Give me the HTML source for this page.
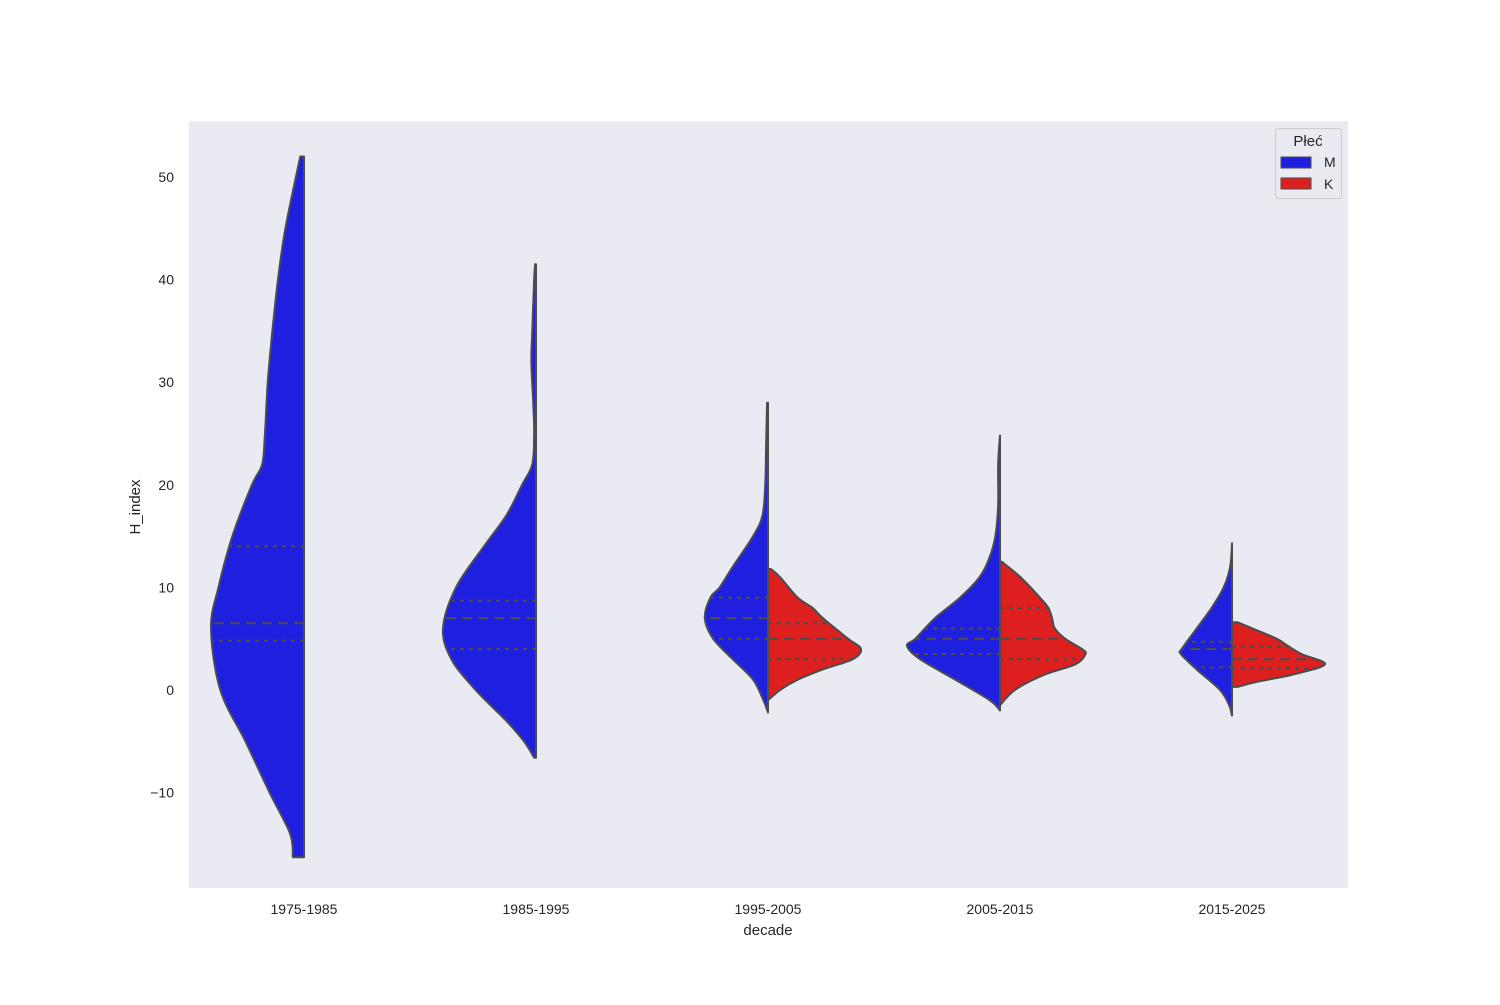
<!DOCTYPE html>
<html><head><meta charset="utf-8">
<style>
html,body{margin:0;padding:0;background:#fff;}
svg text{font-family:"Liberation Sans",Arial,sans-serif;fill:#262626;}
</style></head>
<body>
<svg id="chart" width="1500" height="1000" viewBox="0 0 1500 1000" xmlns="http://www.w3.org/2000/svg">
<rect x="0" y="0" width="1500" height="1000" fill="#fff"/>
<rect x="189" y="121" width="1159" height="767" fill="#eaeaf2"/>
<g id="yticks"></g>
<g id="xticks"></g>
<g id="violins"></g>
<text x="768" y="935" font-size="15" text-anchor="middle">decade</text>
<text x="140" y="507" font-size="15" text-anchor="middle" transform="rotate(-90 140 507)">H_index</text>
<g>
<rect x="1275.5" y="128.5" width="66" height="70" rx="3" fill="#eaeaf2" stroke="#cccccc"/>
<text x="1308" y="146" font-size="15" text-anchor="middle">Płeć</text>
<g><rect x="1281" y="157" width="30" height="11" fill="#1f1fe0" stroke="#4c4c4c" stroke-width="1"/><text x="1324" y="167" font-size="14">M</text></g>
<g><rect x="1281" y="178" width="30" height="11" fill="#de1f1f" stroke="#4c4c4c" stroke-width="1"/><text x="1324" y="189" font-size="14">K</text></g>
</g>
</svg>
<script>
const categories = ["1975-1985","1985-1995","1995-2005","2005-2015","2015-2025"];
const yTicks = [-10,0,10,20,30,40,50];
// M (left halves): value grid and density per category
const mValues = [
 [52,45,40,35,30,25,22,20,15,10,6,0,-5,-10,-14,-16.3],
 [41.5,40,35,32,28,25,22,20,17,14,10,6,3,0,-3,-5,-6.6],
 [28,24,20,17,15,12,10,9,7,5,3,1,-1,-2.2],
 [24.8,22,18,15,13,11,9,7,5,4.3,3,1,-1,-2],
 [14.3,12,10,8,6,4,3.5,2,0,-1.5,-2.5]
];
const mDensity = [
 [0.04,0.2,0.28,0.34,0.39,0.42,0.45,0.56,0.77,0.92,1.0,0.9,0.63,0.37,0.15,0.12],
 [0.01,0.02,0.04,0.05,0.03,0.02,0.04,0.15,0.32,0.56,0.86,1.0,0.91,0.65,0.32,0.13,0.02],
 [0.01,0.02,0.03,0.06,0.16,0.38,0.52,0.62,0.68,0.59,0.38,0.16,0.05,0.0],
 [0.0,0.02,0.02,0.05,0.11,0.22,0.43,0.7,0.91,1.0,0.86,0.48,0.11,0.0],
 [0.0,0.02,0.09,0.22,0.38,0.54,0.55,0.38,0.13,0.03,0.0]
];
const mQuartiles = [[14,6.5,4.8],[8.7,7,4],[9,7,5],[6,5,3.5],[4.7,4,2.2]];
// K (right halves)
const kValues = [null,null,
 [11.8,11,9,8,7,5,4,3,2,1,0,-1],
 [12.5,11,9,8,7,6,5,4,3.5,2.5,1.5,0,-1.5],
 [6.6,6,5,4.3,3.5,2.5,1.5,0.8,0.3]
];
const kDensity = [null,null,
 [0.03,0.13,0.32,0.48,0.59,0.86,1.0,0.91,0.59,0.32,0.13,0.0],
 [0.02,0.22,0.43,0.52,0.56,0.59,0.7,0.88,0.92,0.81,0.48,0.16,0.0],
 [0.06,0.22,0.48,0.6,0.75,1.0,0.65,0.27,0.06]
];
const kQuartiles = [null,null,[6.5,5,3],[8,5,3],[4.2,3,2.1]];

const NS="http://www.w3.org/2000/svg";
const yScale = v => 690 - v*10.26;
const xCenter = i => 304 + i*232;
const maxW = 93;
function el(tag, attrs, parent){const e=document.createElementNS(NS,tag);for(const k in attrs)e.setAttribute(k,attrs[k]);parent.appendChild(e);return e;}

const yg=document.getElementById('yticks');
yTicks.forEach(t=>{
  const tx=el('text',{x:174,y:yScale(t)+5,'font-size':14,'text-anchor':'end'},yg);
  tx.textContent = t<0 ? '\u2212'+Math.abs(t) : String(t);
  
  
});
const xg=document.getElementById('xticks');
categories.forEach((c,i)=>{
  const tx=el('text',{x:xCenter(i),y:914,'font-size':14,'text-anchor':'middle'},xg);
  tx.textContent=c;
  
  
});

function smoothPath(pts){
  let d='M'+pts[0][0].toFixed(2)+','+pts[0][1].toFixed(2);
  for(let i=0;i<pts.length-1;i++){
    const p0=pts[Math.max(0,i-1)],p1=pts[i],p2=pts[i+1],p3=pts[Math.min(pts.length-1,i+2)];
    const c1=[p1[0]+(p2[0]-p0[0])/6,p1[1]+(p2[1]-p0[1])/6];
    const c2=[p2[0]-(p3[0]-p1[0])/6,p2[1]-(p3[1]-p1[1])/6];
    d+=' C'+c1[0].toFixed(2)+','+c1[1].toFixed(2)+' '+c2[0].toFixed(2)+','+c2[1].toFixed(2)+' '+p2[0].toFixed(2)+','+p2[1].toFixed(2);
  }
  return d;
}
function widthAt(vals,dens,v){
  for(let i=0;i<vals.length-1;i++){
    const a=vals[i],b=vals[i+1];
    if(v<=a&&v>=b){const t=(a-v)/(a-b);return dens[i]+(dens[i+1]-dens[i])*t;}
  }
  return 0;
}
const vg=document.getElementById('violins');
function half(i,vals,dens,q,side,color,name){
  const cx=xCenter(i);
  const pts=vals.map((v,j)=>[cx+side*dens[j]*maxW,yScale(v)]);
  let d=smoothPath(pts);
  d+=' L'+cx+','+yScale(vals[vals.length-1])+' L'+cx+','+yScale(vals[0])+' Z';
  const p=el('path',{d:d,fill:color,stroke:'#4c4c4c','stroke-width':2,'stroke-linejoin':'round'},vg);
  
  
  q.forEach((qv,k)=>{
    const w=widthAt(vals,dens,qv)*maxW;
    const ln=el('line',{x1:cx,x2:cx+side*w,y1:yScale(qv),y2:yScale(qv),stroke:'#4c4c4c','stroke-width':2,'stroke-dasharray':k===1?'10,6':'4,5'},vg);
    
    
  });
}
categories.forEach((c,i)=>{
  half(i,mValues[i],mDensity[i],mQuartiles[i],-1,'#1f1fe0','violin-m-'+c);
  if(kValues[i]) half(i,kValues[i],kDensity[i],kQuartiles[i],1,'#de1f1f','violin-k-'+c);
});
</script>
</body></html>
